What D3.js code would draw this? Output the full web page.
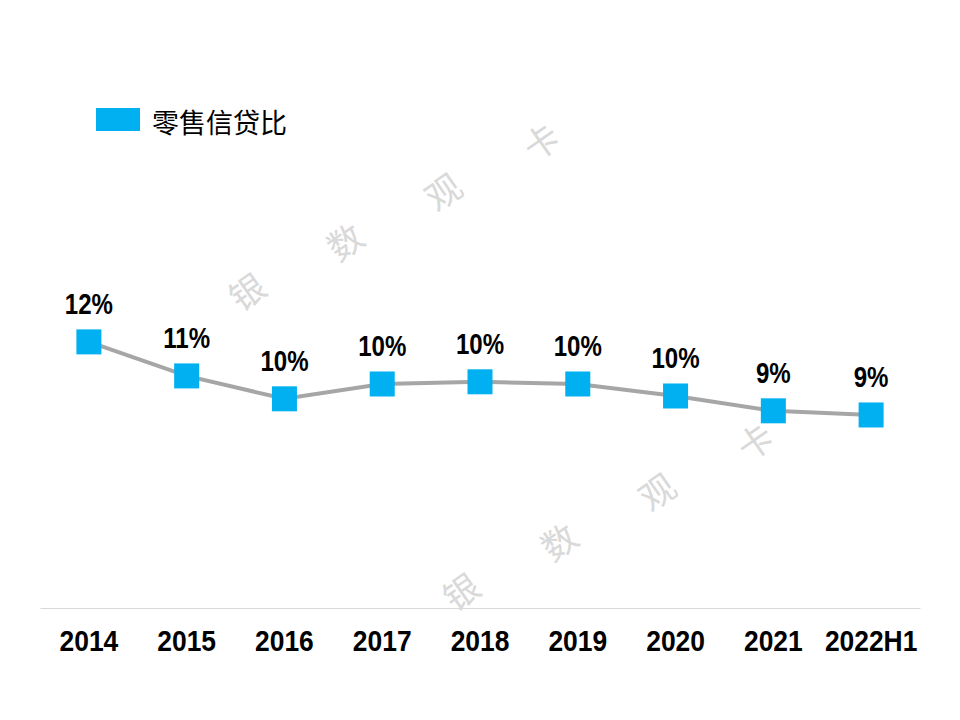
<!DOCTYPE html>
<html><head><meta charset="utf-8">
<script src="https://cdn.jsdelivr.net/npm/d3@7"></script>
<style>body{margin:0;background:#fff}</style>
</head><body>
<script>
const categories = ["2014","2015","2016","2017","2018","2019","2020","2021","2022H1"];
const values = [0.122, 0.1064, 0.0959, 0.1027, 0.1037, 0.1027, 0.0972, 0.0904, 0.0885];
const seriesName = "零售信贷比";
const watermarkChars = ["银","数","观","卡"];

const W = 960, H = 720;
const numFont = "'Liberation Sans', Arial, sans-serif";
const svg = d3.select("body").append("svg").attr("width", W).attr("height", H)
  .style("font-family", numFont);

const x = d3.scaleBand().domain(categories).range([40, 920]);
const y = d3.scaleLinear().domain([0, 0.16]).range([608, 259]);

// watermark
const wm = svg.append("g").attr("fill", "#d9d9d9").style("font-family", "'Noto Sans CJK SC', sans-serif")
  .attr("font-size", 35);
[[246, 290], [460, 590]].forEach(([sx, sy]) => {
  watermarkChars.forEach((c, i) => {
    const cx = sx + i * 98, cy = sy - i * 50;
    wm.append("text").attr("x", 0).attr("y", 0)
      .attr("transform", `translate(${cx},${cy}) rotate(-35)`)
      .attr("text-anchor", "middle").attr("dominant-baseline", "central").text(c);
  });
});

// axis
const xAxis = d3.axisBottom(x).tickSize(0).tickPadding(22);
const ax = svg.append("g").attr("transform", "translate(0,608)").call(xAxis);
ax.select(".domain").attr("stroke", "#d9d9d9").attr("stroke-width", 1);
ax.selectAll("text").attr("font-size", 30).attr("font-weight", "bold").attr("fill", "#000")
  .attr("transform", "scale(0.88,1)")
  .style("font-family", numFont);

const cx = d => x(d) + x.bandwidth() / 2;

// line
const line = d3.line().x((d, i) => cx(categories[i])).y(d => y(d));
svg.append("path").datum(values).attr("d", line).attr("fill", "none")
  .attr("stroke", "#a6a6a6").attr("stroke-width", 4);

// markers
const ms = 25;
svg.selectAll("rect.m").data(values).enter().append("rect").attr("class", "m")
  .attr("x", (d, i) => cx(categories[i]) - ms / 2).attr("y", d => y(d) - ms / 2)
  .attr("width", ms).attr("height", ms).attr("fill", "#00b0f0");

// labels
svg.selectAll("text.lbl").data(values).enter().append("text").attr("class", "lbl")
  .attr("x", 0).attr("y", 0)
  .attr("transform", (d, i) => `translate(${cx(categories[i])},${y(d) - 28}) scale(0.83,1)`)
  .attr("text-anchor", "middle").attr("font-size", 29).attr("font-weight", "bold").attr("fill", "#000")
  .text(d => d3.format(".0%")(d));

// legend
svg.append("rect").attr("x", 96).attr("y", 108).attr("width", 44).attr("height", 23).attr("fill", "#00b0f0");
svg.append("text").attr("x", 152).attr("y", 121).attr("dominant-baseline", "central")
  .attr("font-size", 27).attr("fill", "#000").style("font-family", "'Noto Sans CJK SC', sans-serif")
  .text(seriesName);
</script>
</body></html>
